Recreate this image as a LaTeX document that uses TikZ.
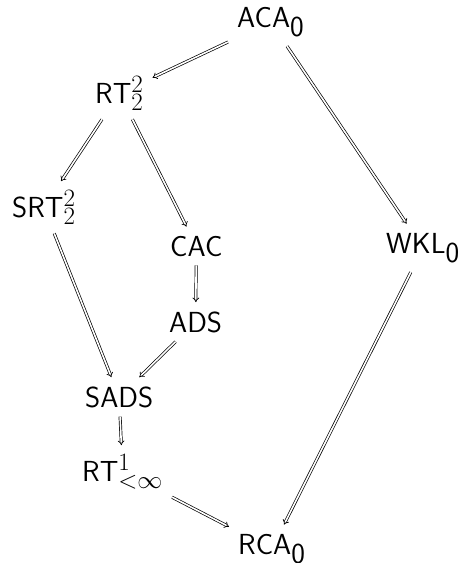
\RequirePackage{fix-cm}
\documentclass[tikz,border=0pt]{standalone}
\usetikzlibrary{arrows.meta}
\DeclareMathSizes{29}{29}{25}{21}
\begin{document}
\begin{tikzpicture}[x=1pt,y=1pt,
  lbl/.style={anchor=base west,inner sep=9pt,font=\fontsize{29}{35}\selectfont\sffamily},
  imp/.style={double,double distance=1.6pt,line width=0.7pt,-{Implies}}]
\useasboundingbox (0,0) rectangle (459,-563);
\node[lbl] (aca)  at (228,-27)  {ACA$_{\textsf{0}}$};
\node[lbl] (rt22) at (86,-103)  {RT$^2_2$};
\node[lbl] (srt)  at (3,-217)   {SRT$^2_2$};
\node[lbl] (cac)  at (161,-256) {CAC};
\node[lbl] (wkl)  at (377,-253) {WKL$_{\textsf{0}}$};
\node[lbl] (ads)  at (160,-332) {ADS};
\node[lbl] (sads) at (76,-407)  {SADS};
\node[lbl] (rt1)  at (73,-481)  {RT$^1_{<\infty}$};
\node[lbl] (rca)  at (229,-554) {RCA$_{\textsf{0}}$};
\draw[imp] (aca) -- (rt22);
\draw[imp] (aca) -- (wkl);
\draw[imp] (rt22) -- (srt);
\draw[imp] (rt22) -- (cac);
\draw[imp] (srt) -- (sads);
\draw[imp] (cac) -- (ads);
\draw[imp] (ads) -- (sads);
\draw[imp] (sads) -- (rt1);
\draw[imp] (rt1) -- (rca);
\draw[imp] (wkl) -- (rca);
\end{tikzpicture}
\end{document}
